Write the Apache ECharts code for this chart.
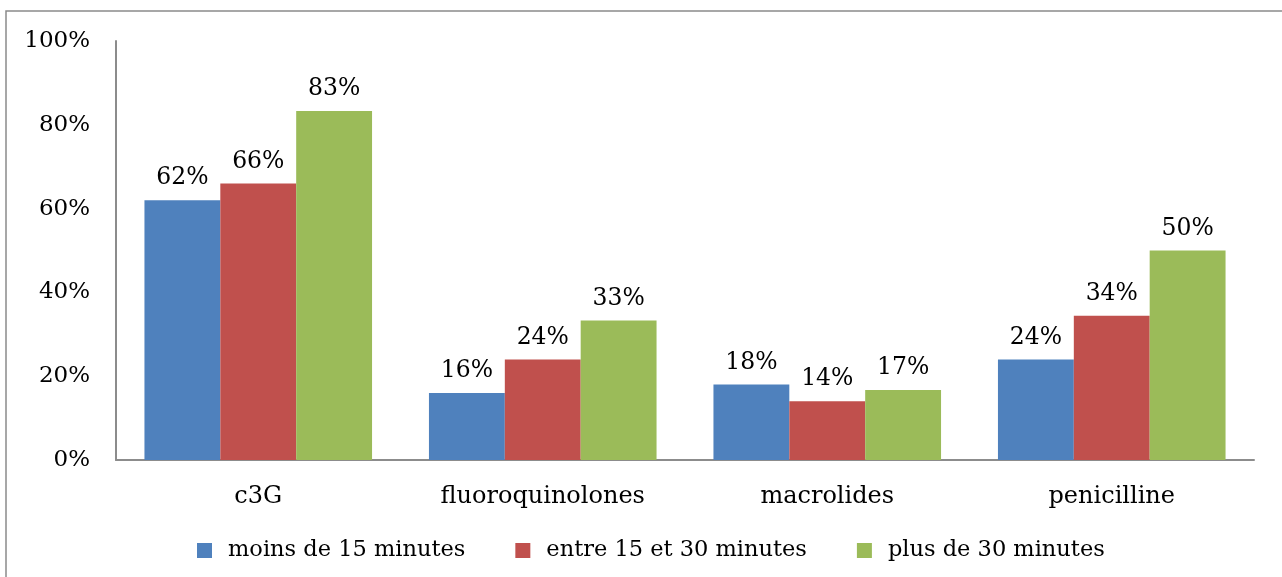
<!DOCTYPE html>
<html>
<head>
<meta charset="utf-8">
<script src="https://cdn.jsdelivr.net/npm/echarts@6/dist/echarts.min.js"></script>
<style>
  html, body { margin: 0; padding: 0; background: #fff; }
  #chart { width: 1282px; height: 577px; }
</style>
</head>
<body>
<div id="chart"></div>
<script>
// data (percent)
const categories = ['c3G', 'fluoroquinolones', 'macrolides', 'penicilline']
const seriesNames = ['moins de 15 minutes', 'entre 15 et 30 minutes', 'plus de 30 minutes']
const lessThan15 = [62, 16, 18, 24]
const between15and30 = [66, 24, 14, 34.4]
const moreThan30 = [83.3, 33.3, 16.7, 50]
const yTicks = [0, 20, 40, 60, 80, 100]

const colors = ['#4F81BD', '#C0504D', '#9BBB59']
const font = 'DejaVu Serif'

const chart = echarts.init(document.getElementById('chart'))

const makeSeries = (name, data, i) => ({
  name,
  type: 'bar',
  data,
  barGap: '0%',
  barCategoryGap: '20%',
  itemStyle: { color: colors[i] },
  label: {
    show: true,
    position: 'top',
    distance: 10,
    fontFamily: font,
    fontSize: 23.5,
    color: '#000',
    formatter: p => Math.round(p.value) + '%'
  }
})

chart.setOption({
  animation: false,
  textStyle: { fontFamily: font },
  graphic: [{
    type: 'rect',
    shape: { x: 6, y: 11, width: 1290, height: 600 },
    style: { fill: 'none', stroke: '#8a8a8a', lineWidth: 1.5 },
    silent: true
  }],
  grid: { left: 116, right: 28, top: 41, bottom: 117 },
  legend: {
    bottom: 10,
    left: 192,
    itemWidth: 15,
    itemHeight: 15,
    itemGap: 50,
    icon: 'rect',
    textStyle: { fontFamily: font, fontSize: 22.5, color: '#000', padding: [0, 0, 0, 11] },
    data: seriesNames
  },
  xAxis: {
    type: 'category',
    data: categories,
    axisLine: { lineStyle: { color: '#8c8c8c', width: 2 } },
    axisTick: { show: false },
    axisLabel: { fontFamily: font, fontSize: 24, color: '#000', margin: 25 }
  },
  yAxis: {
    type: 'value',
    min: yTicks[0],
    max: yTicks[yTicks.length - 1],
    interval: 20,
    axisLine: { show: true, lineStyle: { color: '#8c8c8c', width: 2 } },
    axisTick: { show: false },
    splitLine: { show: false },
    axisLabel: {
      fontFamily: font, fontSize: 23, color: '#000', margin: 26,
      formatter: v => v + '%'
    }
  },
  series: [
    makeSeries(seriesNames[0], lessThan15, 0),
    makeSeries(seriesNames[1], between15and30, 1),
    makeSeries(seriesNames[2], moreThan30, 2)
  ]
})
</script>
</body>
</html>
